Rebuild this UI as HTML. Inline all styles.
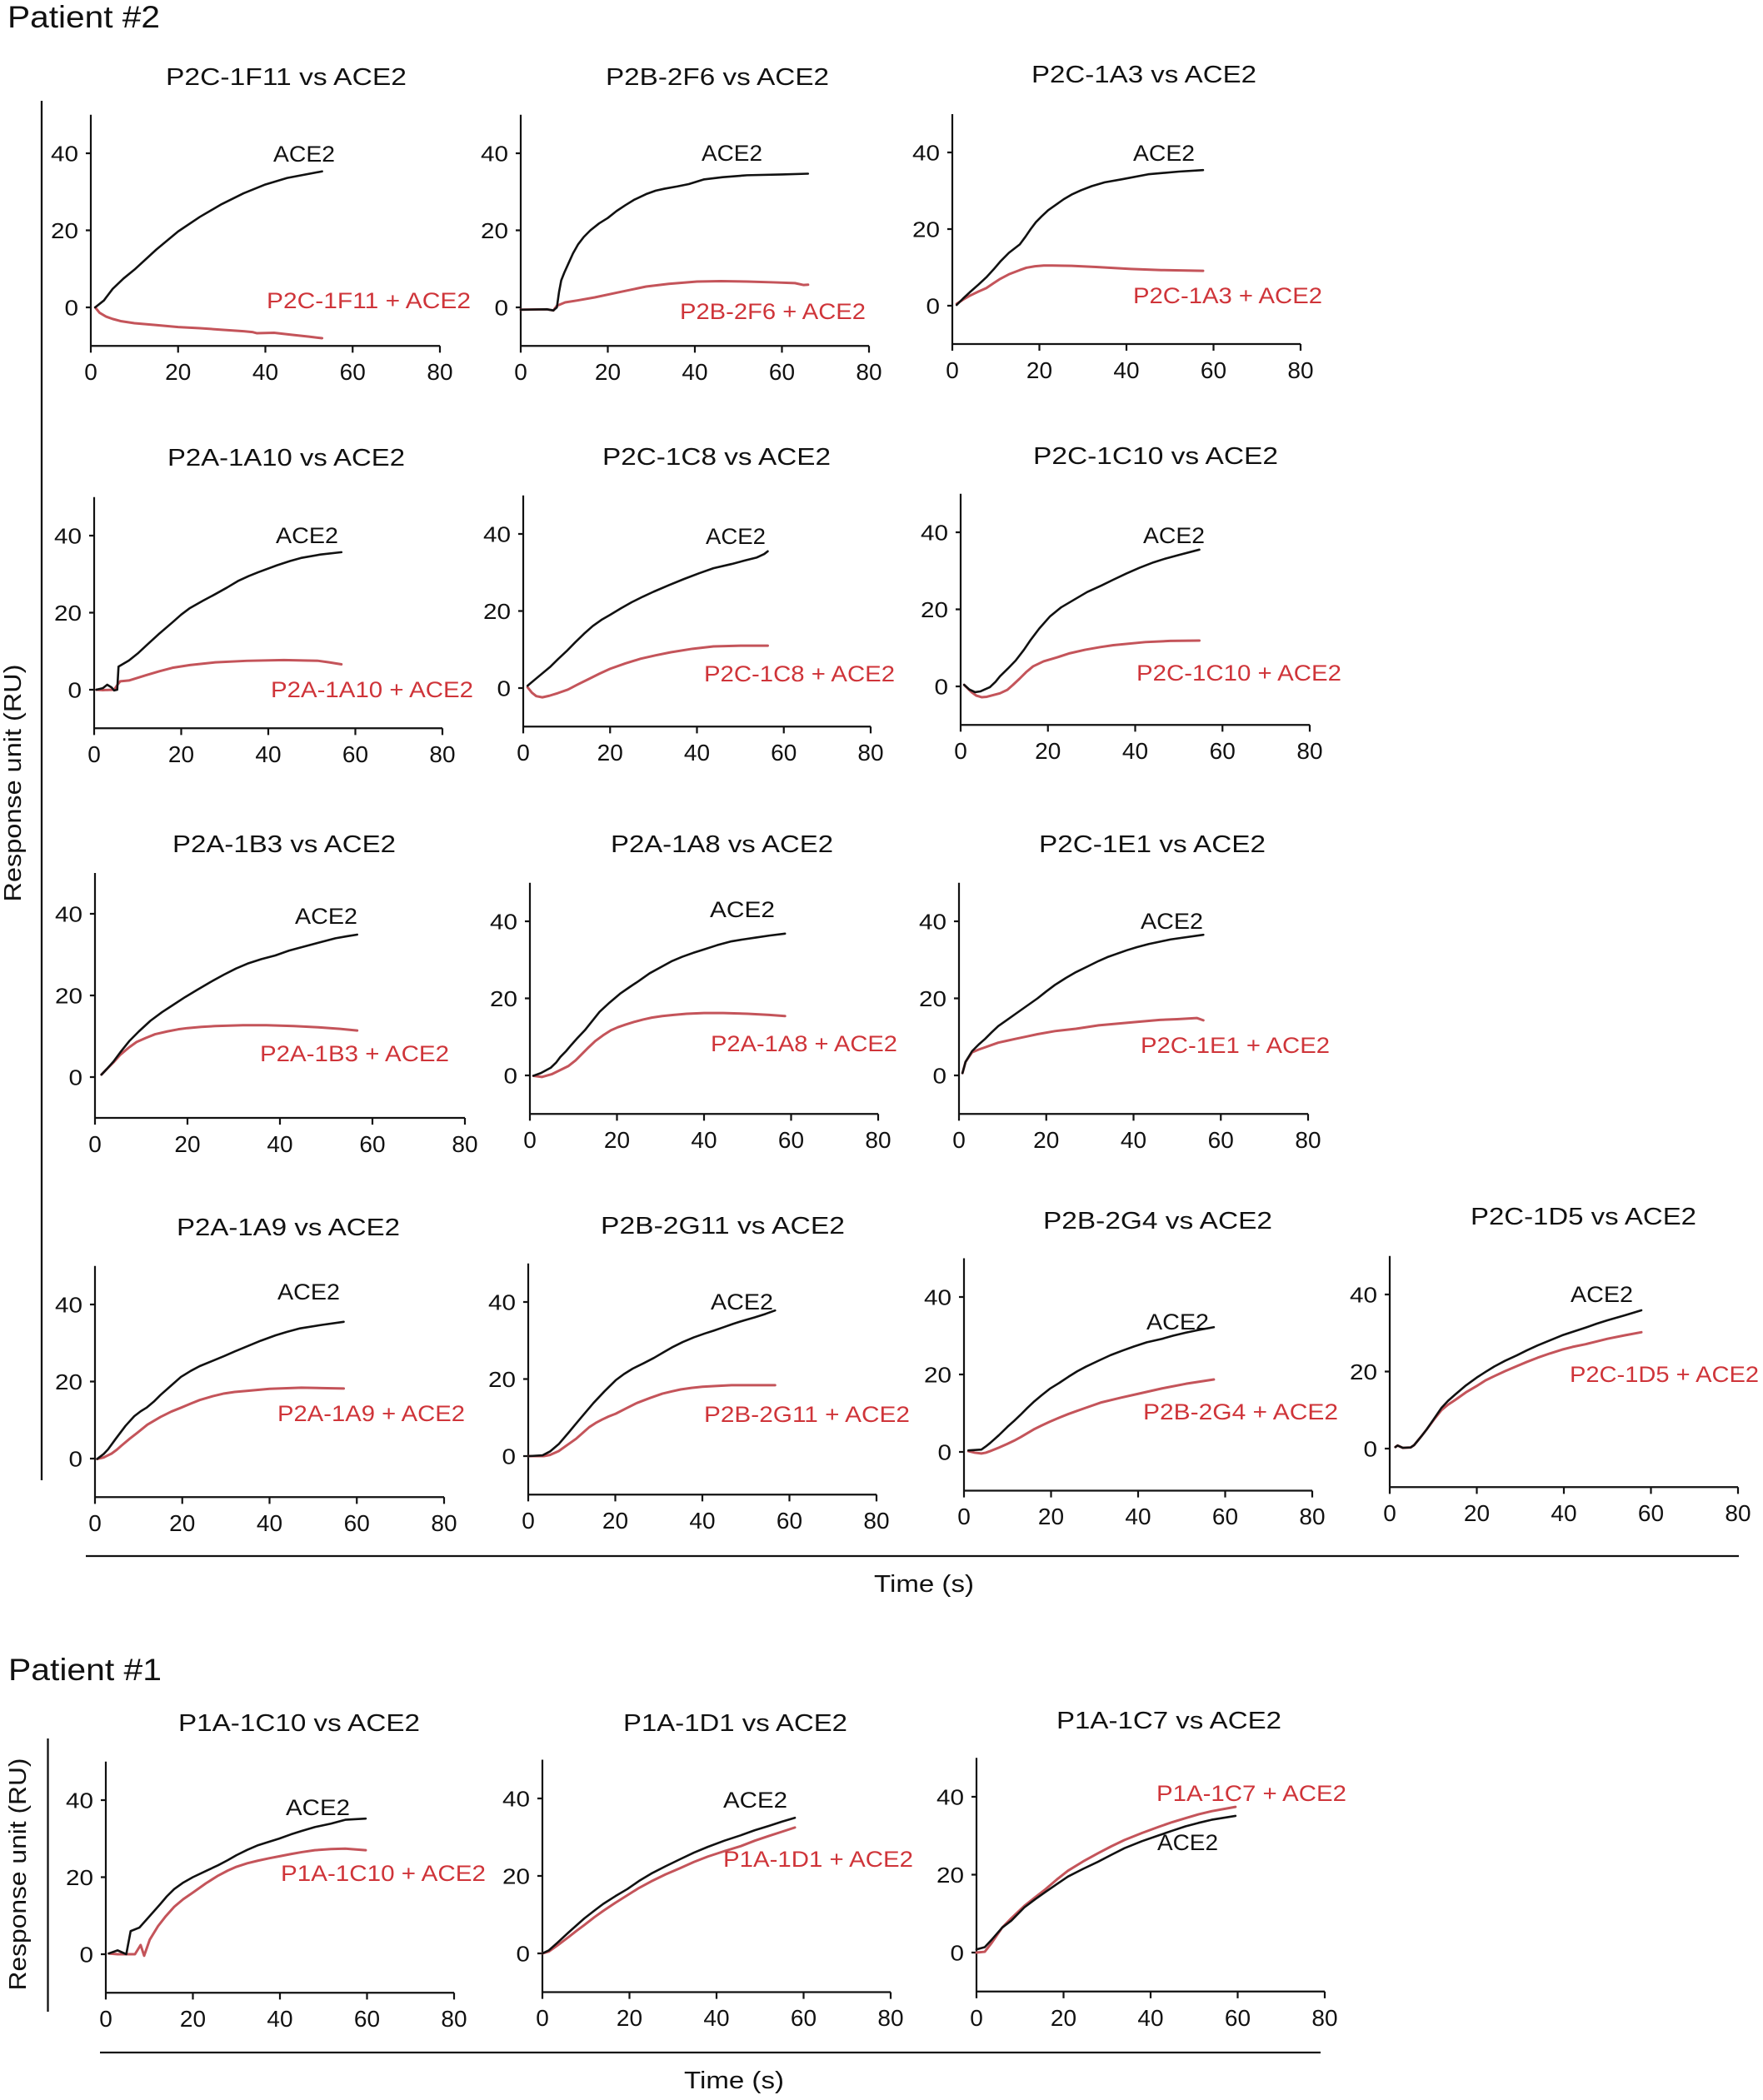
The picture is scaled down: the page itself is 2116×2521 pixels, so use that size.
<!DOCTYPE html>
<html><head><meta charset="utf-8"><style>
html,body{margin:0;padding:0;background:#fff;}
svg{display:block;}
text{font-family:"Liberation Sans",Arial,sans-serif;fill:#111;}
.ti{font-size:29px;text-anchor:middle;}
.xl{font-size:28px;text-anchor:middle;}
.yl{font-size:26px;text-anchor:end;}
.lb{font-size:27px;}
.rd{fill:#cf3439;}
.ax{fill:none;stroke:#111;stroke-width:2.2;vector-effect:non-scaling-stroke;}
.k{fill:none;stroke:#111;stroke-width:2.6;vector-effect:non-scaling-stroke;stroke-linejoin:round;stroke-linecap:round;}
.r{fill:none;stroke:#c4545a;stroke-width:3;vector-effect:non-scaling-stroke;stroke-linejoin:round;stroke-linecap:round;}
.sep{stroke:#111;stroke-width:2.3;}
</style></head><body>
<svg width="2116" height="2521" viewBox="0 0 2116 2521" xmlns="http://www.w3.org/2000/svg">

<text x="9" y="33" font-size="37" textLength="183" lengthAdjust="spacingAndGlyphs">Patient #2</text>
<text x="10" y="2017" font-size="37" textLength="184" lengthAdjust="spacingAndGlyphs">Patient #1</text>

<line class="sep" x1="50" y1="121" x2="50" y2="1777"/>
<line class="sep" x1="103" y1="1868" x2="2087" y2="1868"/>
<line class="sep" x1="57.5" y1="2087" x2="57.5" y2="2415"/>
<line class="sep" x1="120" y1="2464" x2="1585" y2="2464"/>

<text transform="translate(25,940) rotate(-90)" font-size="29" text-anchor="middle" textLength="285" lengthAdjust="spacingAndGlyphs">Response unit (RU)</text>
<text transform="translate(31,2250) rotate(-90)" font-size="29" text-anchor="middle" textLength="279" lengthAdjust="spacingAndGlyphs">Response unit (RU)</text>

<text x="1109" y="1911" font-size="29" text-anchor="middle" textLength="120" lengthAdjust="spacingAndGlyphs">Time (s)</text>
<text x="881" y="2507" font-size="29" text-anchor="middle" textLength="120" lengthAdjust="spacingAndGlyphs">Time (s)</text>

<!-- Titles -->
<text class="ti" x="343.5" y="102" textLength="289" lengthAdjust="spacingAndGlyphs">P2C-1F11 vs ACE2</text>
<text class="ti" x="861" y="102" textLength="268" lengthAdjust="spacingAndGlyphs">P2B-2F6 vs ACE2</text>
<text class="ti" x="1373" y="99" textLength="270" lengthAdjust="spacingAndGlyphs">P2C-1A3 vs ACE2</text>
<text class="ti" x="343.5" y="559" textLength="285" lengthAdjust="spacingAndGlyphs">P2A-1A10 vs ACE2</text>
<text class="ti" x="860" y="558" textLength="274" lengthAdjust="spacingAndGlyphs">P2C-1C8 vs ACE2</text>
<text class="ti" x="1387" y="557" textLength="294" lengthAdjust="spacingAndGlyphs">P2C-1C10 vs ACE2</text>
<text class="ti" x="341" y="1023" textLength="268" lengthAdjust="spacingAndGlyphs">P2A-1B3 vs ACE2</text>
<text class="ti" x="866.5" y="1023" textLength="267" lengthAdjust="spacingAndGlyphs">P2A-1A8 vs ACE2</text>
<text class="ti" x="1383" y="1023" textLength="272" lengthAdjust="spacingAndGlyphs">P2C-1E1 vs ACE2</text>
<text class="ti" x="346" y="1483" textLength="268" lengthAdjust="spacingAndGlyphs">P2A-1A9 vs ACE2</text>
<text class="ti" x="867.5" y="1481" textLength="293" lengthAdjust="spacingAndGlyphs">P2B-2G11 vs ACE2</text>
<text class="ti" x="1389.5" y="1475" textLength="275" lengthAdjust="spacingAndGlyphs">P2B-2G4 vs ACE2</text>
<text class="ti" x="1900.5" y="1470" textLength="271" lengthAdjust="spacingAndGlyphs">P2C-1D5 vs ACE2</text>
<text class="ti" x="359" y="2078" textLength="290" lengthAdjust="spacingAndGlyphs">P1A-1C10 vs ACE2</text>
<text class="ti" x="882.5" y="2078" textLength="269" lengthAdjust="spacingAndGlyphs">P1A-1D1 vs ACE2</text>
<text class="ti" x="1403" y="2075" textLength="270" lengthAdjust="spacingAndGlyphs">P1A-1C7 vs ACE2</text>

<!-- Panel A: P2C-1F11 -->
<g transform="translate(109,369) scale(5.2375,-4.625)">
<path class="ax" d="M0,50V-10H80M0,0H-1.15M0,20H-1.15M0,40H-1.15M0,-10V-11.75M20,-10V-11.75M40,-10V-11.75M60,-10V-11.75M80,-10V-11.75"/>
<path class="r" d="M1,0 L2,-1.4 3.5,-2.4 5,-3 7,-3.6 10,-4.1 15,-4.6 20,-5.1 25,-5.4 30,-5.8 35,-6.2 37,-6.4 38,-6.7 42,-6.6 46,-7.1 50,-7.6 53,-8"/>
<path class="k" d="M1,0 L3,1.8 5,4.8 7.5,7.5 10,9.8 15,15 20,19.7 25,23.5 30,26.8 35,29.6 40,31.9 45,33.6 53,35.3"/>
</g>
<g>
<text class="xl" x="109" y="456">0</text><text class="xl" x="213.75" y="456">20</text><text class="xl" x="318.5" y="456">40</text><text class="xl" x="423.25" y="456">60</text><text class="xl" x="528" y="456">80</text>
<text class="yl" x="94" y="378.5" textLength="16.5" lengthAdjust="spacingAndGlyphs">0</text><text class="yl" x="94" y="286" textLength="33" lengthAdjust="spacingAndGlyphs">20</text><text class="yl" x="94" y="193.5" textLength="33" lengthAdjust="spacingAndGlyphs">40</text>
<text class="lb" x="328" y="194" textLength="74" lengthAdjust="spacingAndGlyphs">ACE2</text>
<text class="lb rd" x="320" y="370" textLength="245" lengthAdjust="spacingAndGlyphs">P2C-1F11 + ACE2</text>
</g>

<!-- Panel B: P2B-2F6 -->
<g transform="translate(625,369) scale(5.225,-4.625)">
<path class="ax" d="M0,50V-10H80M0,0H-1.15M0,20H-1.15M0,40H-1.15M0,-10V-11.75M20,-10V-11.75M40,-10V-11.75M60,-10V-11.75M80,-10V-11.75"/>
<path class="r" d="M0,-0.6 L6,-0.5 7.5,-0.8 8.3,0.4 10.2,1.3 13,1.8 17,2.6 22,3.8 28.8,5.4 34,6.1 40.5,6.7 46,6.8 52,6.7 58,6.5 63,6.3 65,5.8 66,5.9"/>
<path class="k" d="M0,-0.6 L6,-0.5 7.5,-0.8 8.3,0 8.8,4 9.3,7 10,9 11,11.5 12,14 13.2,16.4 14.5,18.3 16,20 18,21.8 20,23.2 22,25 24,26.5 26,27.9 28.8,29.4 31,30.3 33,30.8 36,31.4 38.6,32 42,33.2 46.4,33.8 52,34.3 60,34.5 66,34.7"/>
</g>
<g>
<text class="xl" x="625" y="456">0</text><text class="xl" x="729.5" y="456">20</text><text class="xl" x="834" y="456">40</text><text class="xl" x="938.5" y="456">60</text><text class="xl" x="1043" y="456">80</text>
<text class="yl" x="610" y="378.5" textLength="16.5" lengthAdjust="spacingAndGlyphs">0</text><text class="yl" x="610" y="286" textLength="33" lengthAdjust="spacingAndGlyphs">20</text><text class="yl" x="610" y="193.5" textLength="33" lengthAdjust="spacingAndGlyphs">40</text>
<text class="lb" x="842" y="193" textLength="73" lengthAdjust="spacingAndGlyphs">ACE2</text>
<text class="lb rd" x="816" y="383" textLength="223" lengthAdjust="spacingAndGlyphs">P2B-2F6 + ACE2</text>
</g>

<!-- Panel C: P2C-1A3 -->
<g transform="translate(1143,367) scale(5.225,-4.6)">
<path class="ax" d="M0,50V-10H80M0,0H-1.15M0,20H-1.15M0,40H-1.15M0,-10V-11.75M20,-10V-11.75M40,-10V-11.75M60,-10V-11.75M80,-10V-11.75"/>
<path class="r" d="M1,0.5 L2.5,1.6 4,2.6 6,3.7 7.8,4.6 9.5,5.9 11,7 13,8.2 15.5,9.3 17,9.9 19,10.3 21,10.5 23,10.5 27.4,10.4 33,10.1 41,9.6 48,9.3 57.6,9.1"/>
<path class="k" d="M1,0.2 L2.5,1.9 4,3.5 6,5.5 7.8,7.4 9.5,9.5 11,11.5 13,13.8 15.5,16 16.8,18 18,20 19.2,21.8 20.5,23.3 22,24.9 24,26.5 25.6,27.8 27.4,29 29.5,30.1 32,31.2 35,32.2 39,33 45,34.3 52,35 57.6,35.4"/>
</g>
<g>
<text class="xl" x="1143" y="454">0</text><text class="xl" x="1247.5" y="454">20</text><text class="xl" x="1352" y="454">40</text><text class="xl" x="1456.5" y="454">60</text><text class="xl" x="1561" y="454">80</text>
<text class="yl" x="1128" y="376.5" textLength="16.5" lengthAdjust="spacingAndGlyphs">0</text><text class="yl" x="1128" y="284.5" textLength="33" lengthAdjust="spacingAndGlyphs">20</text><text class="yl" x="1128" y="192.5" textLength="33" lengthAdjust="spacingAndGlyphs">40</text>
<text class="lb" x="1360" y="193" textLength="74" lengthAdjust="spacingAndGlyphs">ACE2</text>
<text class="lb rd" x="1360" y="364" textLength="227" lengthAdjust="spacingAndGlyphs">P2C-1A3 + ACE2</text>
</g>

<!-- Panel D: P2A-1A10 -->
<g transform="translate(113,828) scale(5.225,-4.625)">
<path class="ax" d="M0,50V-10H80M0,0H-1.15M0,20H-1.15M0,40H-1.15M0,-10V-11.75M20,-10V-11.75M40,-10V-11.75M60,-10V-11.75M80,-10V-11.75"/>
<path class="r" d="M0.5,0 L2,-0.1 4.6,0 5.5,1.5 6,2.2 8,2.4 10,3.1 12,3.8 15,4.8 18,5.7 22,6.4 27.8,7.1 35,7.5 43.6,7.7 48,7.6 51.5,7.5 54,7.1 56.8,6.6"/>
<path class="k" d="M0.5,0 L2,0.4 3,1.3 4,0.6 4.6,-0.2 5.3,0 5.6,6 8,7.6 10,9.4 12,11.5 15,14.6 18,17.5 20,19.5 22,21.2 25,23.1 27.8,24.8 30.5,26.5 33,28.2 35.5,29.5 37.7,30.5 42,32.3 45,33.4 47.5,34.2 52,35.1 56.8,35.7"/>
</g>
<g>
<text class="xl" x="113" y="915">0</text><text class="xl" x="217.5" y="915">20</text><text class="xl" x="322" y="915">40</text><text class="xl" x="426.5" y="915">60</text><text class="xl" x="531" y="915">80</text>
<text class="yl" x="98" y="837.5" textLength="16.5" lengthAdjust="spacingAndGlyphs">0</text><text class="yl" x="98" y="745" textLength="33" lengthAdjust="spacingAndGlyphs">20</text><text class="yl" x="98" y="652.5" textLength="33" lengthAdjust="spacingAndGlyphs">40</text>
<text class="lb" x="331" y="652" textLength="75" lengthAdjust="spacingAndGlyphs">ACE2</text>
<text class="lb rd" x="325" y="837" textLength="243" lengthAdjust="spacingAndGlyphs">P2A-1A10 + ACE2</text>
</g>

<!-- Panel E: P2C-1C8 -->
<g transform="translate(628,826) scale(5.2125,-4.625)">
<path class="ax" d="M0,50V-10H80M0,0H-1.15M0,20H-1.15M0,40H-1.15M0,-10V-11.75M20,-10V-11.75M40,-10V-11.75M60,-10V-11.75M80,-10V-11.75"/>
<path class="r" d="M1,0.2 L2,-1.2 3,-2.1 4.4,-2.4 6,-2 8,-1.3 10.3,-0.4 12.5,0.9 15,2.3 17.5,3.7 20,5 23.5,6.4 27,7.6 30.5,8.5 34,9.3 39,10.2 43.8,10.8 50,11 56.3,11"/>
<path class="k" d="M1,0.6 L3,2.5 6.3,5.6 8,7.5 10,9.6 12,11.9 14.2,14.3 16,16.1 18,17.7 20,19 22.5,20.7 25,22.3 27.5,23.7 30,25 33.5,26.7 37,28.3 40.5,29.8 43.8,31.1 48,32.2 51,33.1 53.8,33.9 55.5,34.8 56.3,35.5"/>
</g>
<g>
<text class="xl" x="628" y="913">0</text><text class="xl" x="732.25" y="913">20</text><text class="xl" x="836.5" y="913">40</text><text class="xl" x="940.75" y="913">60</text><text class="xl" x="1045" y="913">80</text>
<text class="yl" x="613" y="835.5" textLength="16.5" lengthAdjust="spacingAndGlyphs">0</text><text class="yl" x="613" y="743" textLength="33" lengthAdjust="spacingAndGlyphs">20</text><text class="yl" x="613" y="650.5" textLength="33" lengthAdjust="spacingAndGlyphs">40</text>
<text class="lb" x="847" y="653" textLength="72" lengthAdjust="spacingAndGlyphs">ACE2</text>
<text class="lb rd" x="845" y="818" textLength="229" lengthAdjust="spacingAndGlyphs">P2C-1C8 + ACE2</text>
</g>

<!-- Panel F: P2C-1C10 -->
<g transform="translate(1153,824) scale(5.2375,-4.625)">
<path class="ax" d="M0,50V-10H80M0,0H-1.15M0,20H-1.15M0,40H-1.15M0,-10V-11.75M20,-10V-11.75M40,-10V-11.75M60,-10V-11.75M80,-10V-11.75"/>
<path class="r" d="M0.8,0.4 L2.5,-1.5 3.6,-2.4 4.8,-2.8 6,-2.7 7,-2.4 9,-1.8 10.7,-0.9 12,0.4 13.5,2 15,3.7 16.6,5.2 19,6.5 22,7.5 25,8.6 28.5,9.5 32,10.2 35,10.7 42.3,11.5 48,11.8 54.7,11.9"/>
<path class="k" d="M0.8,0.4 L2,-0.8 3.3,-1.5 4.5,-1.3 5.5,-0.8 6.7,-0.2 8,1.2 9,2.6 10.8,4.6 12.6,6.7 14.5,9.5 16,12 18,15 20.5,18.2 23,20.5 26,22.5 29,24.5 32.3,26.2 35,27.7 38,29.3 41,30.8 44.2,32.2 47,33.2 50,34.1 54.7,35.5"/>
</g>
<g>
<text class="xl" x="1153" y="911">0</text><text class="xl" x="1257.75" y="911">20</text><text class="xl" x="1362.5" y="911">40</text><text class="xl" x="1467.25" y="911">60</text><text class="xl" x="1572" y="911">80</text>
<text class="yl" x="1138" y="833.5" textLength="16.5" lengthAdjust="spacingAndGlyphs">0</text><text class="yl" x="1138" y="741" textLength="33" lengthAdjust="spacingAndGlyphs">20</text><text class="yl" x="1138" y="648.5" textLength="33" lengthAdjust="spacingAndGlyphs">40</text>
<text class="lb" x="1372" y="652" textLength="74" lengthAdjust="spacingAndGlyphs">ACE2</text>
<text class="lb rd" x="1364" y="817" textLength="246" lengthAdjust="spacingAndGlyphs">P2C-1C10 + ACE2</text>
</g>

<!-- Panel G: P2A-1B3 -->
<g transform="translate(114,1293) scale(5.55,-4.9)">
<path class="ax" d="M0,50V-10H80M0,0H-1.1M0,20H-1.1M0,40H-1.1M0,-10V-11.65M20,-10V-11.65M40,-10V-11.65M60,-10V-11.65M80,-10V-11.65"/>
<path class="r" d="M1.4,0.6 L2.5,1.9 4,3.6 5.5,5.5 7.4,7.3 9,8.6 11,9.6 13,10.5 15.7,11.2 18,11.7 20,12 23,12.3 26,12.5 32,12.7 37.1,12.7 43,12.5 48.3,12.2 53,11.8 56.7,11.4"/>
<path class="k" d="M1.4,0.6 L2.5,1.9 4,3.8 5.5,6.1 7.4,8.8 9.5,11.2 12,13.8 14.5,15.9 16.8,17.6 19.5,19.6 22,21.3 25,23.3 27.9,25.1 30.5,26.6 33,27.8 36,28.9 39,29.8 42,31 44,31.6 48.3,32.9 52,34 54.5,34.5 56.7,34.9"/>
</g>
<g>
<text class="xl" x="114" y="1383">0</text><text class="xl" x="225" y="1383">20</text><text class="xl" x="336" y="1383">40</text><text class="xl" x="447" y="1383">60</text><text class="xl" x="558" y="1383">80</text>
<text class="yl" x="99" y="1302.5" textLength="16.5" lengthAdjust="spacingAndGlyphs">0</text><text class="yl" x="99" y="1204.5" textLength="33" lengthAdjust="spacingAndGlyphs">20</text><text class="yl" x="99" y="1106.5" textLength="33" lengthAdjust="spacingAndGlyphs">40</text>
<text class="lb" x="354" y="1109" textLength="75" lengthAdjust="spacingAndGlyphs">ACE2</text>
<text class="lb rd" x="312" y="1274" textLength="227" lengthAdjust="spacingAndGlyphs">P2A-1B3 + ACE2</text>
</g>

<!-- Panel H: P2A-1A8 -->
<g transform="translate(636,1291) scale(5.225,-4.625)">
<path class="ax" d="M0,50V-10H80M0,0H-1.15M0,20H-1.15M0,40H-1.15M0,-10V-11.75M20,-10V-11.75M40,-10V-11.75M60,-10V-11.75M80,-10V-11.75"/>
<path class="r" d="M0.8,-0.1 L2.8,-0.4 5,0.3 7,1.4 8.8,2.4 10.5,3.9 12,5.6 13.5,7.3 15,8.9 16.8,10.4 18.6,11.7 20.2,12.5 22,13.2 24,13.9 26,14.5 28,15 30.4,15.4 33,15.7 36,16 40,16.2 44.4,16.2 50,16 55,15.7 58.6,15.4"/>
<path class="k" d="M0.8,-0.1 L2.5,0.6 4.8,2 6,3.3 7,4.8 8.3,6.3 9.5,7.9 11,9.8 12.6,11.7 14.3,14.1 16,16.5 18.3,18.9 20.7,21.2 23,23 25,24.5 27.5,26.5 30.4,28.3 32.5,29.6 35,30.8 37.5,31.8 40,32.7 43,33.8 46.3,34.8 49,35.3 52,35.8 55,36.3 58.6,36.8"/>
</g>
<g>
<text class="xl" x="636" y="1378">0</text><text class="xl" x="740.5" y="1378">20</text><text class="xl" x="845" y="1378">40</text><text class="xl" x="949.5" y="1378">60</text><text class="xl" x="1054" y="1378">80</text>
<text class="yl" x="621" y="1300.5" textLength="16.5" lengthAdjust="spacingAndGlyphs">0</text><text class="yl" x="621" y="1208" textLength="33" lengthAdjust="spacingAndGlyphs">20</text><text class="yl" x="621" y="1115.5" textLength="33" lengthAdjust="spacingAndGlyphs">40</text>
<text class="lb" x="852" y="1101" textLength="78" lengthAdjust="spacingAndGlyphs">ACE2</text>
<text class="lb rd" x="853" y="1262" textLength="224" lengthAdjust="spacingAndGlyphs">P2A-1A8 + ACE2</text>
</g>

<!-- Panel I: P2C-1E1 -->
<g transform="translate(1151,1291) scale(5.2375,-4.625)">
<path class="ax" d="M0,50V-10H80M0,0H-1.15M0,20H-1.15M0,40H-1.15M0,-10V-11.75M20,-10V-11.75M40,-10V-11.75M60,-10V-11.75M80,-10V-11.75"/>
<path class="r" d="M0.8,0.6 L1.5,3.5 3,6 4.5,6.7 6,7.3 7.5,7.9 9,8.5 11,9 13,9.5 15.5,10.1 18,10.7 22,11.5 26.8,12.1 32,13 36,13.4 40.8,13.9 46,14.4 50,14.6 54.5,14.9 56,14.3"/>
<path class="k" d="M0.8,0.6 L1.5,3.5 3,6.3 4.5,8 6,9.5 7.5,11.2 9,12.8 11,14.4 13,16 15.5,18 18,20 20,21.8 22,23.5 24.5,25.3 26.8,26.8 29.5,28.3 32,29.7 34,30.7 36,31.5 38.5,32.5 40.8,33.3 43.5,34.1 46,34.7 48.5,35.3 51,35.7 56,36.5"/>
</g>
<g>
<text class="xl" x="1151" y="1378">0</text><text class="xl" x="1255.75" y="1378">20</text><text class="xl" x="1360.5" y="1378">40</text><text class="xl" x="1465.25" y="1378">60</text><text class="xl" x="1570" y="1378">80</text>
<text class="yl" x="1136" y="1300.5" textLength="16.5" lengthAdjust="spacingAndGlyphs">0</text><text class="yl" x="1136" y="1208" textLength="33" lengthAdjust="spacingAndGlyphs">20</text><text class="yl" x="1136" y="1115.5" textLength="33" lengthAdjust="spacingAndGlyphs">40</text>
<text class="lb" x="1369" y="1115" textLength="75" lengthAdjust="spacingAndGlyphs">ACE2</text>
<text class="lb rd" x="1369" y="1264" textLength="227" lengthAdjust="spacingAndGlyphs">P2C-1E1 + ACE2</text>
</g>

<!-- Panel J: P2A-1A9 -->
<g transform="translate(114,1751) scale(5.2375,-4.625)">
<path class="ax" d="M0,50V-10H80M0,0H-1.15M0,20H-1.15M0,40H-1.15M0,-10V-11.75M20,-10V-11.75M40,-10V-11.75M60,-10V-11.75M80,-10V-11.75"/>
<path class="r" d="M0.5,-0.1 L2,0.3 3.8,1.3 5,2.3 6,3.3 8,5.2 9.7,6.7 12,8.8 15,10.8 17.5,12.2 19.7,13.2 22,14.3 24,15.2 27,16.2 29.6,16.9 32,17.3 35,17.6 40,18.1 47.3,18.4 52,18.3 57,18.2"/>
<path class="k" d="M0.5,-0.1 L2,1.2 3,2.4 4.8,5.2 7,8.5 9,11 10.5,12.3 11.8,13.2 13.5,14.8 15,16.5 17.5,19 19.7,21.2 22,22.8 24,24 27,25.4 29.6,26.6 32,27.8 35,29.2 38,30.6 41.4,32 44,32.9 47,33.8 52,34.7 57,35.5"/>
</g>
<g>
<text class="xl" x="114" y="1838">0</text><text class="xl" x="218.75" y="1838">20</text><text class="xl" x="323.5" y="1838">40</text><text class="xl" x="428.25" y="1838">60</text><text class="xl" x="533" y="1838">80</text>
<text class="yl" x="99" y="1760.5" textLength="16.5" lengthAdjust="spacingAndGlyphs">0</text><text class="yl" x="99" y="1668" textLength="33" lengthAdjust="spacingAndGlyphs">20</text><text class="yl" x="99" y="1575.5" textLength="33" lengthAdjust="spacingAndGlyphs">40</text>
<text class="lb" x="333" y="1560" textLength="75" lengthAdjust="spacingAndGlyphs">ACE2</text>
<text class="lb rd" x="333" y="1706" textLength="225" lengthAdjust="spacingAndGlyphs">P2A-1A9 + ACE2</text>
</g>

<!-- Panel K: P2B-2G11 -->
<g transform="translate(634,1748) scale(5.225,-4.625)">
<path class="ax" d="M0,50V-10H80M0,0H-1.15M0,20H-1.15M0,40H-1.15M0,-10V-11.75M20,-10V-11.75M40,-10V-11.75M60,-10V-11.75M80,-10V-11.75"/>
<path class="r" d="M0.2,0 L3.6,0 5,0.3 7,1.3 9,2.9 11,4.5 12.5,6 14,7.5 15.5,8.6 17,9.5 18.5,10.3 20.1,11 22.5,12.4 25,13.8 28,15.1 30.8,16.2 33,16.8 35,17.3 37.5,17.7 40,18 43,18.2 46.7,18.4 52,18.4 56.7,18.4"/>
<path class="k" d="M0.2,0 L3.3,0.2 5,1.2 7,3.1 9.2,6 10.6,7.9 12,9.8 13.5,11.8 15,13.8 17.5,16.8 20.1,19.7 22,21.3 24,22.7 26.5,24.1 28.9,25.5 31,26.9 33,28.2 35.5,29.6 38,30.8 40.5,31.8 42.7,32.6 45,33.5 47,34.3 49.5,35.2 52,36 54.5,36.9 56.7,37.8"/>
</g>
<g>
<text class="xl" x="634" y="1835">0</text><text class="xl" x="738.5" y="1835">20</text><text class="xl" x="843" y="1835">40</text><text class="xl" x="947.5" y="1835">60</text><text class="xl" x="1052" y="1835">80</text>
<text class="yl" x="619" y="1757.5" textLength="16.5" lengthAdjust="spacingAndGlyphs">0</text><text class="yl" x="619" y="1665" textLength="33" lengthAdjust="spacingAndGlyphs">20</text><text class="yl" x="619" y="1572.5" textLength="33" lengthAdjust="spacingAndGlyphs">40</text>
<text class="lb" x="853" y="1572" textLength="75" lengthAdjust="spacingAndGlyphs">ACE2</text>
<text class="lb rd" x="845" y="1707" textLength="247" lengthAdjust="spacingAndGlyphs">P2B-2G11 + ACE2</text>
</g>

<!-- Panel L: P2B-2G4 -->
<g transform="translate(1157,1743) scale(5.225,-4.65)">
<path class="ax" d="M0,50V-10H80M0,0H-1.15M0,20H-1.15M0,40H-1.15M0,-10V-11.75M20,-10V-11.75M40,-10V-11.75M60,-10V-11.75M80,-10V-11.75"/>
<path class="r" d="M1,0.2 L2.5,-0.2 4,-0.4 5,-0.2 6,0.2 8,1.1 10,2.1 11.5,2.9 13,3.8 14.5,4.8 16,5.8 17.8,6.8 19.7,7.8 22,8.9 24,9.8 26,10.6 28,11.4 31.6,12.8 36,14 40,15 45.5,16.4 51,17.6 57.4,18.7"/>
<path class="k" d="M1,0.4 L4,0.6 5,1.4 6,2.3 8,4.3 10,6.5 11.5,8 13,9.6 14.5,11.3 16,12.9 17.8,14.6 19.7,16.3 22,17.9 24,19.4 26,20.8 28,22 31,23.6 33.7,25 36.5,26.2 39,27.2 42,28.3 45.5,29.2 48,30 51,30.8 54,31.5 57.4,32.2"/>
</g>
<g>
<text class="xl" x="1157" y="1830">0</text><text class="xl" x="1261.5" y="1830">20</text><text class="xl" x="1366" y="1830">40</text><text class="xl" x="1470.5" y="1830">60</text><text class="xl" x="1575" y="1830">80</text>
<text class="yl" x="1142" y="1752.5" textLength="16.5" lengthAdjust="spacingAndGlyphs">0</text><text class="yl" x="1142" y="1659.5" textLength="33" lengthAdjust="spacingAndGlyphs">20</text><text class="yl" x="1142" y="1566.5" textLength="33" lengthAdjust="spacingAndGlyphs">40</text>
<text class="lb" x="1376" y="1596" textLength="75" lengthAdjust="spacingAndGlyphs">ACE2</text>
<text class="lb rd" x="1372" y="1704" textLength="234" lengthAdjust="spacingAndGlyphs">P2B-2G4 + ACE2</text>
</g>

<!-- Panel M: P2C-1D5 -->
<g transform="translate(1668,1739) scale(5.225,-4.625)">
<path class="ax" d="M0,50V-10H80M0,0H-1.15M0,20H-1.15M0,40H-1.15M0,-10V-11.75M20,-10V-11.75M40,-10V-11.75M60,-10V-11.75M80,-10V-11.75"/>
<path class="r" d="M1.3,0.4 L1.8,0.8 3,0.2 4.8,0.3 5.6,0.9 6.4,2 7.4,3.4 8.5,5 10.2,7.6 11.9,10 13.4,11.4 15,12.6 17.5,14.6 20.2,16.4 22,17.7 24,18.8 26.5,20.1 29.2,21.4 31.5,22.5 34,23.6 36.8,24.7 39.6,25.7 42,26.4 45,27.1 47.5,27.8 50,28.5 54,29.4 57.8,30.2"/>
<path class="k" d="M1.3,0.4 L1.8,0.8 3,0.2 4.8,0.3 5.6,0.9 6.4,2 7.4,3.4 8.5,5 10.2,7.8 11.9,10.6 13.4,12.4 15,14 17.5,16.4 20.2,18.6 22,19.9 24,21.3 26.5,22.8 29.2,24.2 31.5,25.5 34,26.8 36.8,28.1 39.6,29.4 42,30.3 45,31.4 47.5,32.4 50,33.3 54,34.6 57.8,35.9"/>
</g>
<g>
<text class="xl" x="1668" y="1826">0</text><text class="xl" x="1772.5" y="1826">20</text><text class="xl" x="1877" y="1826">40</text><text class="xl" x="1981.5" y="1826">60</text><text class="xl" x="2086" y="1826">80</text>
<text class="yl" x="1653" y="1748.5" textLength="16.5" lengthAdjust="spacingAndGlyphs">0</text><text class="yl" x="1653" y="1656" textLength="33" lengthAdjust="spacingAndGlyphs">20</text><text class="yl" x="1653" y="1563.5" textLength="33" lengthAdjust="spacingAndGlyphs">40</text>
<text class="lb" x="1885" y="1563" textLength="75" lengthAdjust="spacingAndGlyphs">ACE2</text>
<text class="lb rd" x="1884" y="1659" textLength="227" lengthAdjust="spacingAndGlyphs">P2C-1D5 + ACE2</text>
</g>

<!-- Panel N: P1A-1C10 -->
<g transform="translate(127,2346) scale(5.225,-4.625)">
<path class="ax" d="M0,50V-10H80M0,0H-1.15M0,20H-1.15M0,40H-1.15M0,-10V-11.75M20,-10V-11.75M40,-10V-11.75M60,-10V-11.75M80,-10V-11.75"/>
<path class="r" d="M0.7,0.2 L2.7,0 6.7,0 8,2.4 8.8,-0.4 10.1,3.8 12,7.3 13.8,9.9 15.7,12.3 17.8,14.3 20,16 23,18.4 25.8,20.4 28,21.7 30,22.7 32.5,23.6 35,24.3 37.5,24.9 39.8,25.4 42.5,26 45,26.5 48,27 51.7,27.3 55,27.4 59.7,27"/>
<path class="k" d="M0.7,0.2 L2.7,1 4.7,0 5.7,6 7.7,6.9 10,9.8 12.5,13 14,15 15.7,16.9 17.8,18.6 20,20 23,21.6 25.8,23.1 28,24.4 30,25.7 32.5,27.1 35,28.3 37.5,29.2 39.8,30 42.5,31.1 45,32 48,33 51.7,33.9 55,34.9 59.7,35.2"/>
</g>
<g>
<text class="xl" x="127" y="2433">0</text><text class="xl" x="231.5" y="2433">20</text><text class="xl" x="336" y="2433">40</text><text class="xl" x="440.5" y="2433">60</text><text class="xl" x="545" y="2433">80</text>
<text class="yl" x="112" y="2355.5" textLength="16.5" lengthAdjust="spacingAndGlyphs">0</text><text class="yl" x="112" y="2263" textLength="33" lengthAdjust="spacingAndGlyphs">20</text><text class="yl" x="112" y="2170.5" textLength="33" lengthAdjust="spacingAndGlyphs">40</text>
<text class="lb" x="343" y="2179" textLength="77" lengthAdjust="spacingAndGlyphs">ACE2</text>
<text class="lb rd" x="337" y="2258" textLength="246" lengthAdjust="spacingAndGlyphs">P1A-1C10 + ACE2</text>
</g>

<!-- Panel O: P1A-1D1 -->
<g transform="translate(651,2345) scale(5.225,-4.65)">
<path class="ax" d="M0,50V-10H80M0,0H-1.15M0,20H-1.15M0,40H-1.15M0,-10V-11.75M20,-10V-11.75M40,-10V-11.75M60,-10V-11.75M80,-10V-11.75"/>
<path class="r" d="M0,0 L1.5,0.5 3.4,2 6,4.2 7.8,5.8 9.6,7.3 12,9.4 14,11 16.8,13.1 19.5,15 22.2,16.9 25,18.6 28.3,20.4 31.6,22 34.8,23.6 38,25 41.8,26.4 45.6,27.7 48.8,29.1 52,30.3 55,31.4 58,32.5"/>
<path class="k" d="M0,0 L1.5,0.8 3.4,2.7 6,5.4 7.8,7.2 9.6,9 12,11.1 14,12.8 16.8,14.8 19.5,16.6 22.2,18.7 25,20.6 28.3,22.5 31.6,24.3 34.8,26 38,27.5 41.8,29.1 45.6,30.5 48.8,31.8 52,32.9 55,34 58,35"/>
</g>
<g>
<text class="xl" x="651" y="2432">0</text><text class="xl" x="755.5" y="2432">20</text><text class="xl" x="860" y="2432">40</text><text class="xl" x="964.5" y="2432">60</text><text class="xl" x="1069" y="2432">80</text>
<text class="yl" x="636" y="2354.5" textLength="16.5" lengthAdjust="spacingAndGlyphs">0</text><text class="yl" x="636" y="2261.5" textLength="33" lengthAdjust="spacingAndGlyphs">20</text><text class="yl" x="636" y="2168.5" textLength="33" lengthAdjust="spacingAndGlyphs">40</text>
<text class="lb" x="868" y="2170" textLength="77" lengthAdjust="spacingAndGlyphs">ACE2</text>
<text class="lb rd" x="868" y="2241" textLength="228" lengthAdjust="spacingAndGlyphs">P1A-1D1 + ACE2</text>
</g>

<!-- Panel P: P1A-1C7 -->
<g transform="translate(1172,2344) scale(5.225,-4.675)">
<path class="ax" d="M0,50V-10H80M0,0H-1.15M0,20H-1.15M0,40H-1.15M0,-10V-11.75M20,-10V-11.75M40,-10V-11.75M60,-10V-11.75M80,-10V-11.75"/>
<path class="r" d="M0,0 L1.9,0.2 3.5,2.5 5.9,6.4 8,8.8 11,12 13.5,14.2 15.9,16.3 18.5,18.8 21,21 24.5,23.4 27.9,25.5 31,27.3 34,28.9 38,30.7 41.9,32.3 45,33.5 48,34.5 51,35.5 54,36.3 59.5,37.4"/>
<path class="k" d="M0,0.8 L1.9,1.4 3.5,3.3 5.9,6.4 8,8.2 11,11.6 13.5,13.7 15.9,15.6 18.5,17.6 21,19.5 24.5,21.5 27.9,23.3 31,25.1 34,26.8 38,28.6 41.9,30.1 45,31.3 48,32.4 51,33.3 54,34.1 59.5,35.1"/>
</g>
<g>
<text class="xl" x="1172" y="2432">0</text><text class="xl" x="1276.5" y="2432">20</text><text class="xl" x="1381" y="2432">40</text><text class="xl" x="1485.5" y="2432">60</text><text class="xl" x="1590" y="2432">80</text>
<text class="yl" x="1157" y="2353.5" textLength="16.5" lengthAdjust="spacingAndGlyphs">0</text><text class="yl" x="1157" y="2260" textLength="33" lengthAdjust="spacingAndGlyphs">20</text><text class="yl" x="1157" y="2166.5" textLength="33" lengthAdjust="spacingAndGlyphs">40</text>
<text class="lb" x="1389" y="2221" textLength="73" lengthAdjust="spacingAndGlyphs">ACE2</text>
<text class="lb rd" x="1388" y="2162" textLength="228" lengthAdjust="spacingAndGlyphs">P1A-1C7 + ACE2</text>
</g>
</svg>
</body></html>
